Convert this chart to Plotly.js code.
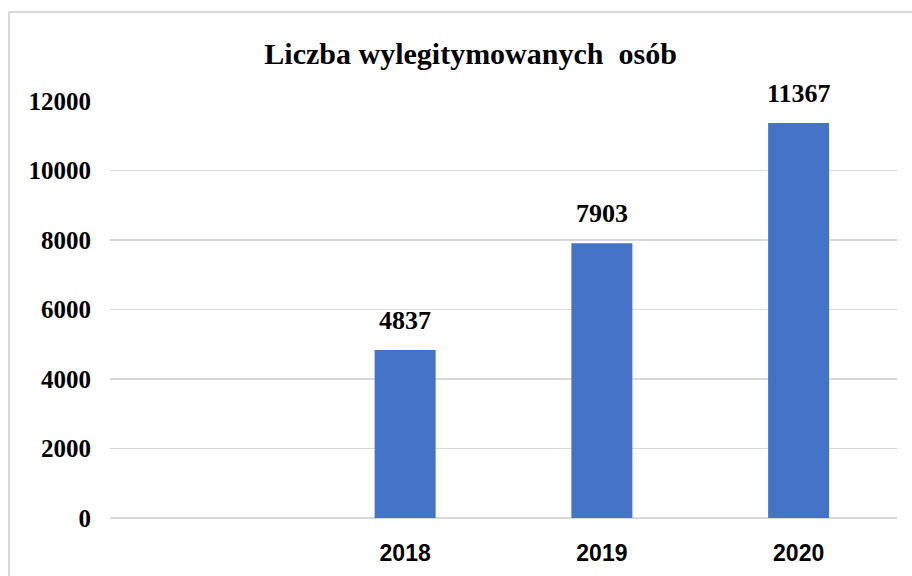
<!DOCTYPE html>
<html>
<head>
<meta charset="utf-8">
<script src="https://cdn.plot.ly/plotly-3.0.1.min.js"></script>
<style>
  html, body { margin: 0; padding: 0; background: #fff; overflow: hidden; }
  #wrap { position: relative; width: 912px; height: 576px; }
  #chart { position: absolute; left: 0; top: 0; width: 912px; height: 576px; }
  #frame { position: absolute; left: 8px; top: 11px; width: 1000px; height: 1000px;
           border: 2px solid #d9d9d9; pointer-events: none; }
</style>
</head>
<body>
<div id="wrap">
  <div id="chart"></div>
  <div id="frame"></div>
</div>
<script>
const years = [2018, 2019, 2020];
const values = [4837, 7903, 11367];
const yTicks = [0, 2000, 4000, 6000, 8000, 10000, 12000];
const titleText = 'Liczba wylegitymowanych&nbsp; osób';

const serif = 'Liberation Serif, Times New Roman, serif';
const sans = 'Liberation Sans, Arial, sans-serif';

const trace = {
  type: 'bar',
  x: years,
  y: values,
  marker: { color: '#4472c4' },
  hoverinfo: 'x+y'
};

const annotations = years.map((yr, i) => ({
  x: yr, y: values[i], xref: 'x', yref: 'y',
  text: String(values[i]), showarrow: false,
  yanchor: 'bottom', yshift: 13,
  font: { family: serif, size: 26, color: '#000', weight: 'bold' }
}));

const layout = {
  width: 912, height: 576,
  margin: { l: 110, r: 15, t: 101, b: 58 },
  paper_bgcolor: '#ffffff',
  plot_bgcolor: '#ffffff',
  bargap: 0.69,
  showlegend: false,
  title: {
    text: titleText,
    font: { family: serif, size: 30, color: '#000', weight: 'bold' },
    x: 0.516, xref: 'container', xanchor: 'center',
    y: 1 - 53 / 576, yref: 'container', yanchor: 'middle'
  },
  xaxis: {
    range: [2016.5, 2020.5],
    tickvals: years,
    ticktext: years.map(String),
    showgrid: false, zeroline: false, showline: false, ticks: '',
    ticklabelstandoff: 19,
    tickfont: { family: sans, size: 23, color: '#000', weight: 'bold' },
    fixedrange: true
  },
  yaxis: {
    range: [0, 12000],
    tickvals: yTicks,
    ticktext: yTicks.map(String),
    showgrid: true, gridcolor: '#d9d9d9', gridwidth: 1.5,
    zeroline: true, zerolinecolor: '#d9d9d9', zerolinewidth: 1.5,
    showline: false, ticks: '',
    ticklabelstandoff: 18,
    tickfont: { family: serif, size: 25, color: '#000', weight: 'bold' },
    fixedrange: true
  },
  annotations: annotations
};

Plotly.newPlot('chart', [trace], layout, { displayModeBar: false, staticPlot: true });
</script>
</body>
</html>
